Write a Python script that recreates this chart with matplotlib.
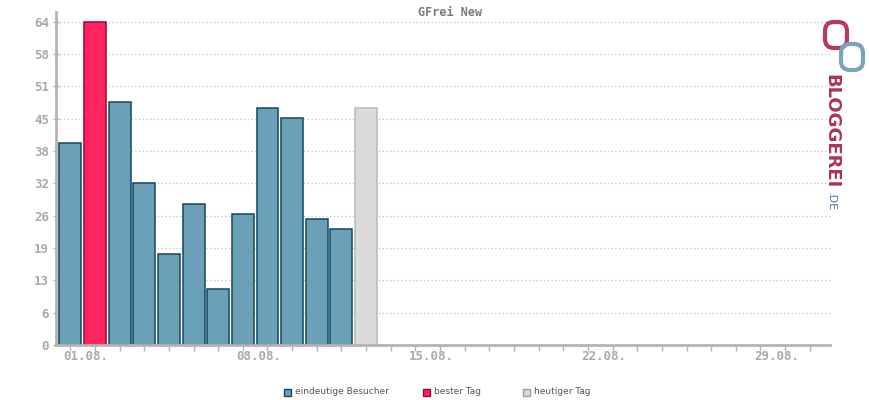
import matplotlib
matplotlib.use("Agg")
import matplotlib.pyplot as plt
from matplotlib.patches import FancyBboxPatch, Rectangle
from matplotlib.transforms import IdentityTransform

# daily unique visitors, August
days = [1, 2, 3, 4, 5, 6, 7, 8, 9, 10, 11, 12, 13]
visitors = [40, 64, 48, 32, 18, 28, 11, 26, 47, 45, 25, 23, 47]
best_day = 2
today = 13
ytick_values = [0, 6.4, 12.8, 19.2, 25.6, 32, 38.4, 44.8, 51.2, 57.6, 64]
ytick_labels = ["0", "6", "13", "19", "26", "32", "38", "45", "51", "58", "64"]
xlabel_days = [1, 8, 15, 22, 29]
xlabel_text = ["01.08.", "08.08.", "15.08.", "22.08.", "29.08."]
legend_labels = ["eindeutige Besucher", "bester Tag", "heutiger Tag"]

blue, blue_edge = "#6aa1b9", "#14475c"
red, red_edge = "#ff2360", "#a5002e"
grey, grey_edge = "#dadada", "#b9b9b9"
axis_grey = "#b4b4b4"

fig = plt.figure(figsize=(8.7, 4.0), dpi=100)
ax = fig.add_axes([56 / 870, 1 - 345 / 400, (830 - 56) / 870, (345 - 12) / 400])

for d, v in zip(days, visitors):
    if d == best_day:
        fc, ec = red, red_edge
    elif d == today:
        fc, ec = grey, grey_edge
    else:
        fc, ec = blue, blue_edge
    ax.bar(d, v, width=0.89, color=fc, edgecolor=ec, linewidth=1.1, zorder=3)

ax.set_xlim(0.42, 31.82)
ax.set_ylim(0, 65.9)

for s in ["top", "right"]:
    ax.spines[s].set_visible(False)
for s in ["left", "bottom"]:
    ax.spines[s].set_color(axis_grey)
    ax.spines[s].set_linewidth(2)
    ax.spines[s].set_zorder(4)

ax.set_yticks(ytick_values)
ax.set_yticklabels(ytick_labels)
for y in ytick_values[1:]:
    ax.axhline(y, color="#c4c4c4", lw=0.9, ls=(0, (1, 2)), zorder=1, clip_on=False)
ax.tick_params(axis="y", length=4, width=1, color=axis_grey, direction="inout",
               labelcolor="#aaaaaa", labelsize=9, pad=3)
for t in ax.get_yticklabels():
    t.set_family("DejaVu Sans Mono")
    t.set_weight("bold")

ax.set_xticks(range(1, 32))
ax.set_xticklabels([])
ax.tick_params(axis="x", length=4, width=1, color=axis_grey, direction="out")
for d, lab in zip(xlabel_days, xlabel_text):
    ax.text(d + 0.64, -2.3, lab, ha="center", va="center", fontsize=9,
            family="DejaVu Sans Mono", weight="bold", color="#aaaaaa")

fig.text(450 / 870, 1 - 12 / 400, "GFrei New", ha="center", va="center",
         fontsize=8.5, family="DejaVu Sans Mono", weight="bold", color="#7a7a7a")

# legend
leg_x = [284, 423, 523]
leg_cols = [(blue, blue_edge), (red, red_edge), (grey, "#a0a0a0")]
for x, (fc, ec), lab in zip(leg_x, leg_cols, legend_labels):
    fig.patches.append(Rectangle((x, 400 - 396), 7, 7, facecolor=fc, edgecolor=ec,
                                 linewidth=1, transform=IdentityTransform(), figure=fig))
    fig.text((x + 11) / 870, 1 - 392 / 400, lab, ha="left", va="center",
             fontsize=6.5, color="#555555")

# bloggerei logo
fig.patches.append(FancyBboxPatch((825, 400 - 48), 22, 26, boxstyle="round,pad=0,rounding_size=9",
                                  facecolor="none", edgecolor="#b8385e", linewidth=3,
                                  transform=IdentityTransform(), figure=fig))
fig.patches.append(FancyBboxPatch((841, 400 - 70), 22, 26, boxstyle="round,pad=0,rounding_size=9",
                                  facecolor="none", edgecolor="#7aa4ba", linewidth=3,
                                  transform=IdentityTransform(), figure=fig))
fig.text(831 / 870, 1 - 74 / 400, "BLOGGEREI", rotation=270, ha="center", va="top",
         fontsize=13, weight="bold", color="#a8345e", family="DejaVu Sans")
fig.text(831 / 870, 1 - 192 / 400, ".DE", rotation=270, ha="center", va="top",
         fontsize=8, color="#4f7f9e", family="DejaVu Sans")

fig.savefig("out.png", dpi=100)
